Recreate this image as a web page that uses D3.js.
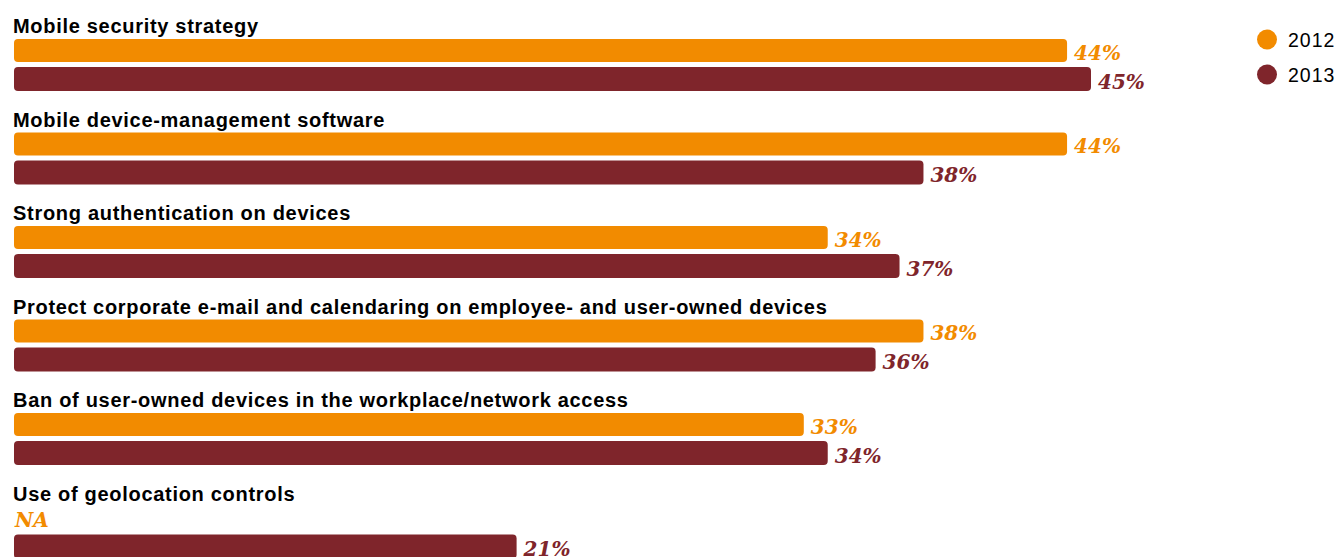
<!DOCTYPE html>
<html>
<head>
<meta charset="utf-8">
<script src="https://cdn.jsdelivr.net/npm/d3@7"></script>
<style>
  html, body { margin: 0; padding: 0; background: #fff; }
  svg { display: block; }
</style>
</head>
<body>
<svg id="chart" width="1340" height="557"></svg>
<script>
// Security measures taken for mobile devices, 2012 vs 2013 (% of respondents)
const categories = [
  "Mobile security strategy",
  "Mobile device-management software",
  "Strong authentication on devices",
  "Protect corporate e-mail and calendaring on employee- and user-owned devices",
  "Ban of user-owned devices in the workplace/network access",
  "Use of geolocation controls"
];
const years = ["2012", "2013"];
const values2012 = [44, 44, 34, 38, 33, null];
const values2013 = [45, 38, 37, 36, 34, 21];

const colors = { "2012": "#f28b00", "2013": "#7f252b" };

const svg = d3.select("#chart");

const x = d3.scaleLinear().domain([0, 45]).range([14, 1091]);
const groupY = d3.scaleLinear().domain([0, 5]).range([39, 39 + 5 * 93.5]);

const barH = { "2012": 23, "2013": 24 };
const barOffset = { "2012": 0, "2013": 28 };

const rows = categories.map((c, i) => ({
  cat: c, i,
  bars: [
    { year: "2012", v: values2012[i] },
    { year: "2013", v: values2013[i] }
  ]
}));

const g = svg.selectAll("g.group").data(rows).join("g")
  .attr("class", "group")
  .attr("transform", d => `translate(0,${groupY(d.i)})`);

g.append("text")
  .attr("x", 13)
  .attr("y", -6)
  .attr("font-family", "Liberation Sans, Arial, sans-serif")
  .attr("font-weight", "bold")
  .attr("font-size", 20)
  .attr("letter-spacing", 0.7)
  .attr("fill", "#000")
  .text(d => d.cat);

const b = g.selectAll("g.bar").data(d => d.bars).join("g").attr("class", "bar");

b.filter(d => d.v != null).append("rect")
  .attr("x", x(0))
  .attr("y", d => barOffset[d.year])
  .attr("width", d => x(d.v) - x(0))
  .attr("height", d => barH[d.year])
  .attr("rx", 4)
  .attr("fill", d => colors[d.year]);

b.append("text")
  .attr("x", d => d.v != null ? x(d.v) + 7 : 15)
  .attr("y", d => barOffset[d.year] + barH[d.year] - 2.5)
  .attr("font-family", "DejaVu Serif, serif")
  .attr("font-style", "italic")
  .attr("font-weight", "bold")
  .attr("font-size", 20)
  .attr("fill", d => colors[d.year])
  .text(d => d.v != null ? d.v + "%" : "NA");

// Legend
const legend = svg.append("g").selectAll("g").data(years).join("g")
  .attr("transform", (d, i) => `translate(1267,${39.5 + i * 35})`);
legend.append("circle").attr("r", 10).attr("fill", d => colors[d]);
legend.append("text")
  .attr("x", 21).attr("y", 7)
  .attr("font-family", "Liberation Sans, Arial, sans-serif")
  .attr("font-size", 19.5)
  .attr("letter-spacing", 1)
  .attr("fill", "#000")
  .text(d => d);
</script>
</body>
</html>
